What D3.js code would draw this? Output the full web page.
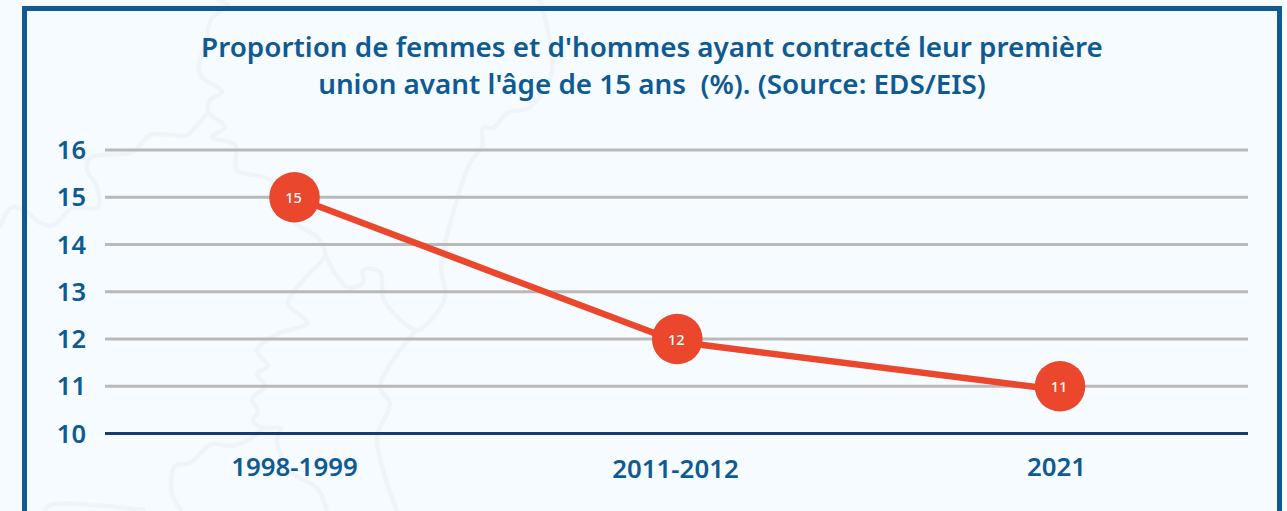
<!DOCTYPE html>
<html><head><meta charset="utf-8">
<script src="https://cdn.jsdelivr.net/npm/d3@7"></script>
<style>
html,body{margin:0;padding:0;background:#f6fbff;overflow:hidden}
svg{display:block}
text{font-family:"Noto Sans",sans-serif}
</style></head><body><svg id="c" width="1287" height="511"></svg>
<script>
const titleLines = ["Proportion de femmes et d'hommes ayant contracté leur première","union avant l'âge de 15 ans  (%). (Source: EDS/EIS)"];
const categories = ["1998-1999","2011-2012","2021"];
const markerValues = [15,12,11];
const lineValues = [15,11.94,10.92];
const yTicks = [10,11,12,13,14,15,16];

// faint decorative map outline behind the chart
const mapOutline = [
 [[217,0],[228,5],[212,18],[208,30],[205,45],[200,60],[200,75],[222,92],[210,100],[208,112],[225,127],[212,137],[235,145],[237,170],[270,180],[295,223],[317,237],[325,255],[306,277],[288,303],[307,323],[277,334],[257,351],[268,366],[257,374],[265,386],[252,399],[258,411],[253,421],[263,428],[280,428],[277,441],[290,471],[317,488],[327,511]],
 [[263,428],[250,439],[230,446],[212,444],[190,463],[175,466],[172,494],[182,511]],
 [[325,255],[347,287],[363,283],[363,270],[380,272],[384,300],[416,330],[427,324],[445,297],[441,267],[453,213],[470,163],[482,147],[483,128],[493,128],[507,113],[530,107],[552,70],[540,0]],
 [[416,330],[380,386],[390,404],[377,438],[397,511]],
 [[208,112],[197,125],[187,135],[150,135],[133,152],[90,158],[87,170],[97,187],[98,207],[73,208],[53,225],[40,223],[28,213],[12,207],[0,227]],
 [[45,511],[50,505],[145,510]]
];

const svg = d3.select("#c");
const blue = "#0f5a92", red = "#ea472d";
svg.append("rect").attr("width",1287).attr("height",511).attr("fill","#f6fbff");

const mapLine = d3.line().curve(d3.curveCatmullRom);
svg.selectAll("path.map").data(mapOutline).join("path")
  .attr("d",mapLine).attr("fill","none").attr("stroke","#eff4f8")
  .attr("stroke-width",4.5).attr("stroke-linejoin","round");

svg.append("rect").attr("x",24.5).attr("y",8.5).attr("width",1255).attr("height",520)
  .attr("fill","none").attr("stroke",blue).attr("stroke-width",5);

const y = d3.scaleLinear().domain([10,16]).range([433.5,150]);
const x = d3.scalePoint().domain(categories).range([294.5,1060]);
const xLabel = d3.scalePoint().domain(categories).range([294.5,1056.5]);
const left = 105, right = 1248;

const t = svg.append("text").attr("text-anchor","middle").attr("fill",blue)
  .attr("font-size",27.8).attr("font-weight",600).style("white-space","pre");
titleLines.forEach((l,i)=>t.append("tspan").attr("x",652).attr("y",57+i*37).text(l));

svg.selectAll("line.g").data(yTicks).join("line")
  .attr("x1",left).attr("x2",right).attr("y1",d=>y(d)).attr("y2",d=>y(d))
  .attr("stroke",d=>d===10?"#1c3a6e":"#b9b9b9").attr("stroke-width",3);
svg.selectAll("text.yl").data(yTicks).join("text")
  .attr("x",86).attr("y",d=>y(d)+9).attr("text-anchor","end")
  .attr("fill",blue).attr("font-size",25.5).attr("font-weight",600).text(d=>d);
svg.selectAll("text.xl").data(categories).join("text")
  .attr("x",d=>xLabel(d)).attr("y",(d,i)=>[476,478,476][i]).attr("text-anchor","middle")
  .attr("fill",blue).attr("font-size",25.8).attr("font-weight",600).text(d=>d);

svg.append("path").datum(categories.map((c,i)=>({c,v:lineValues[i]})))
  .attr("d",d3.line().x(d=>x(d.c)).y(d=>y(d.v)))
  .attr("fill","none").attr("stroke",red).attr("stroke-width",6.5);
const pts = categories.map((c,i)=>({c,v:markerValues[i]}));
svg.selectAll("circle.p").data(pts).join("circle")
  .attr("cx",d=>x(d.c)).attr("cy",d=>y(d.v)).attr("r",25.3).attr("fill",red);
svg.selectAll("text.v").data(pts).join("text")
  .attr("x",d=>x(d.c)-1).attr("y",d=>y(d.v)+5.5).attr("text-anchor","middle")
  .attr("fill","#fff").attr("font-size",14.5).attr("font-weight",500).text(d=>d.v);
</script></body></html>
